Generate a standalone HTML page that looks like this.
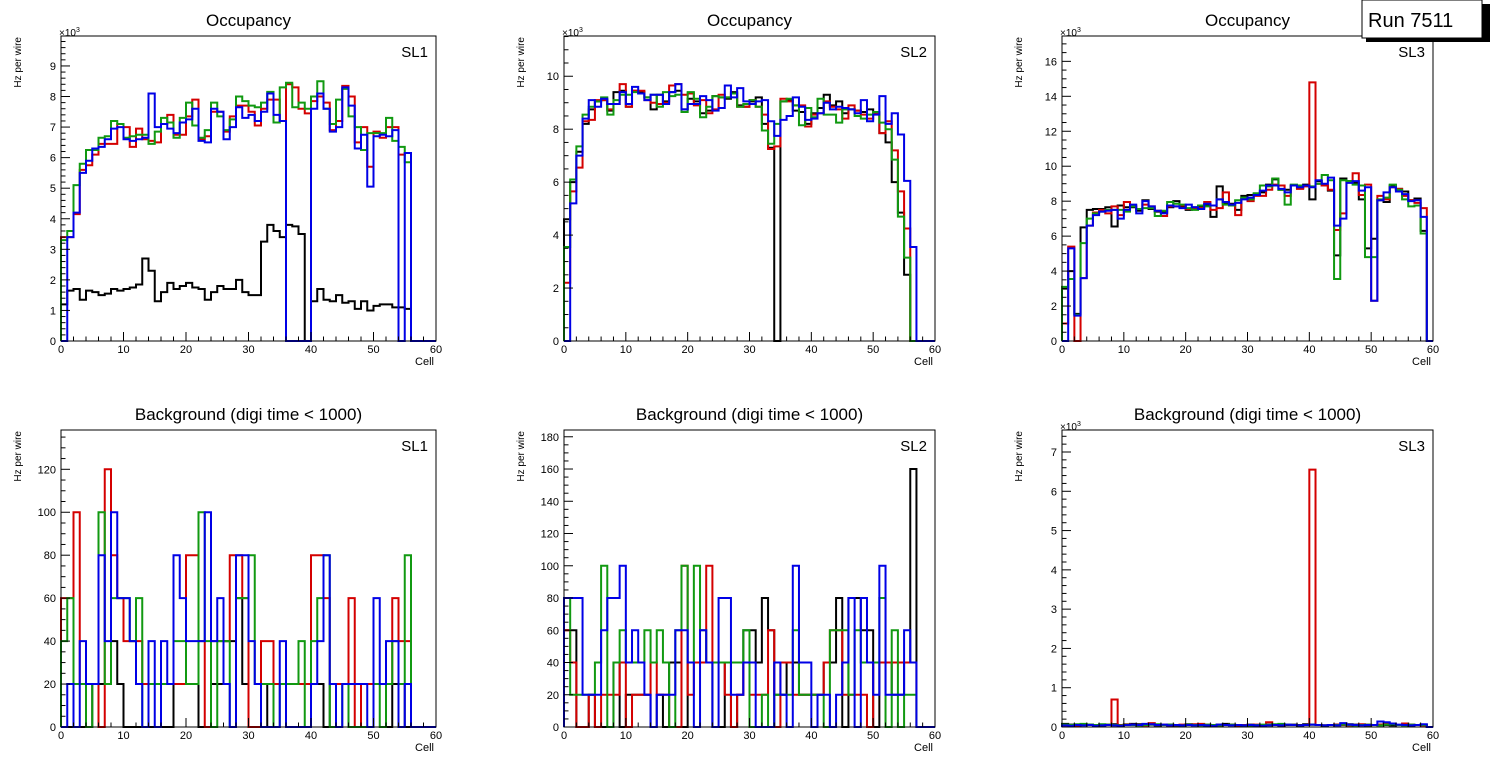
<!DOCTYPE html>
<html><head><meta charset="utf-8"><style>
body{margin:0;background:#fff;}
svg{display:block;font-family:"Liberation Sans",sans-serif;}
</style></head><body>
<svg id="c" width="1496" height="772"></svg>
<script>
// ---------- data ----------
const cellTicks = [0,10,20,30,40,50,60];
const p1Black = [1.2,1.65,1.7,1.35,1.65,1.6,1.5,1.55,1.7,1.65,1.7,1.75,1.85,2.7,2.3,1.3,1.6,1.9,1.7,1.8,1.9,1.75,1.7,1.35,1.6,1.8,1.7,1.7,2.0,1.6,1.5,1.5,3.25,3.8,3.6,3.4,3.8,3.75,3.5,0,1.3,1.7,1.35,1.3,1.5,1.25,1.3,1.05,1.3,1.0,1.15,1.2,1.2,1.1,1.1,1.05];
const p1Red = [3.4,3.4,4.15,5.6,5.75,6.1,6.45,6.45,6.45,7.1,7.0,6.35,6.95,6.6,6.55,6.5,7.1,7.4,6.75,6.75,7.35,7.9,6.6,6.7,7.5,7.5,6.85,7.35,7.7,7.7,7.5,7.05,7.6,7.9,7.9,7.2,8.4,8.3,7.6,7.45,7.85,8.0,7.8,6.9,7.2,8.35,8.0,6.5,7.0,5.7,6.85,6.65,7.0,7.0,6.1,6.15];
const p1Green = [3.3,3.6,5.1,5.8,6.25,6.25,6.65,6.7,7.2,7.1,6.65,6.7,6.75,6.75,6.45,6.85,7.3,7.15,6.65,7.3,7.8,7.05,6.65,6.9,7.8,7.35,6.9,7.25,8.0,7.85,7.7,7.65,7.8,8.15,7.15,8.3,8.45,7.65,7.8,7.6,8.0,8.5,7.6,7.1,7.9,8.25,7.35,7.0,6.25,6.8,6.8,6.8,7.3,6.55,6.35,5.85];
const p1Blue = [0,3.4,4.2,5.5,5.9,6.3,6.35,6.6,6.95,7.0,6.6,6.55,6.6,6.65,8.1,7.0,7.1,6.95,6.8,7.15,7.25,7.6,6.55,6.5,7.6,7.5,6.6,7.0,7.65,7.3,7.4,7.2,7.5,8.1,7.4,7.2,0,0,0,0,7.6,8.1,7.6,6.85,7.0,8.3,7.7,6.3,6.75,5.05,6.7,6.75,6.7,6.9,0,6.15];
const p2Black = [4.6,6.0,7.15,8.2,8.75,9.05,9.1,8.7,9.4,9.45,8.85,9.45,9.4,9.2,8.75,9.3,9.05,9.4,9.45,8.75,9.15,9.05,8.6,8.7,9.25,9.2,9.15,9.4,8.9,8.85,9.05,9.2,8.2,7.3,0,9.05,9.1,8.7,8.65,8.2,8.6,8.8,9.3,8.9,9.05,8.6,8.75,8.7,8.65,8.75,8.6,7.85,7.5,6.0,4.85,2.5];
const p2Red = [2.2,5.65,6.55,8.3,8.35,9.1,9.1,8.75,8.95,9.7,8.85,9.45,9.45,9.1,9.0,8.95,9.0,9.65,9.7,9.3,9.35,8.9,9.1,8.6,8.75,9.3,9.2,9.35,8.85,8.85,9.1,8.85,8.55,7.25,7.35,9.15,9.05,8.9,8.9,8.1,8.55,8.6,9.05,8.85,8.75,8.4,8.9,8.7,8.55,8.4,8.6,7.85,8.3,7.2,5.65,4.25];
const p2Green = [3.55,6.1,7.35,8.55,8.85,9.05,9.2,8.55,9.1,9.3,9.3,9.4,9.35,9.2,9.3,8.85,9.4,9.25,9.3,8.65,9.4,9.15,8.45,8.85,9.25,9.2,9.2,9.35,8.85,8.95,9.1,8.85,7.95,7.45,8.2,9.05,9.15,8.9,8.15,8.8,8.45,9.15,8.55,8.55,8.25,8.75,8.75,8.5,8.4,8.55,8.65,8.25,8.0,6.85,4.7,3.15];
const p2Blue = [0,5.2,7.0,8.4,9.1,8.85,9.15,8.95,8.95,9.4,8.95,9.6,9.35,9.1,9.3,9.3,8.95,9.4,9.7,8.75,8.95,8.95,9.25,9.1,8.7,8.8,9.65,9.2,9.55,9.05,8.95,9.05,9.1,8.3,7.75,8.35,8.5,9.2,8.85,8.35,8.4,8.6,9.0,8.75,8.85,8.8,8.75,8.6,9.1,8.3,8.55,9.25,8.2,8.6,7.8,6.05,3.55];
const p3Black = [3.0,4.0,1.55,6.5,7.5,7.55,7.55,7.65,6.55,7.75,7.65,7.65,7.45,8.05,7.55,7.4,7.35,7.65,8.0,7.7,7.5,7.65,7.7,7.8,7.1,8.85,7.9,7.85,7.5,8.3,8.35,8.4,8.5,8.95,9.25,8.65,8.65,8.9,8.75,8.95,8.1,9.15,8.9,8.6,4.9,9.3,9.15,9.05,8.1,5.3,5.85,8.05,7.95,8.9,8.7,8.55,8.05,8.15,6.3];
const p3Red = [1.0,5.4,0,3.6,6.6,7.35,7.5,7.3,7.7,7.2,7.95,7.75,7.55,7.8,7.7,7.45,7.15,7.7,7.7,7.75,7.55,7.55,7.6,7.95,7.5,7.6,8.5,7.8,7.2,8.15,8.0,8.3,8.3,8.65,8.95,8.9,8.3,8.9,8.7,8.85,14.8,9.0,8.9,8.65,6.35,7.3,9.1,9.6,8.35,8.95,2.3,8.3,8.1,8.8,8.7,8.3,8.05,7.9,7.6];
const p3Green = [3.1,3.55,1.5,5.6,7.0,7.3,7.4,7.5,7.5,7.5,7.4,7.7,7.55,7.6,7.6,7.15,7.45,7.95,7.85,7.8,7.6,7.5,7.75,7.7,7.75,8.1,7.8,7.75,8.05,8.2,8.1,8.45,8.9,8.85,9.3,8.65,7.8,8.95,8.9,8.9,8.85,9.0,9.5,9.2,3.55,9.2,9.15,8.95,8.9,4.8,4.8,8.1,8.2,8.95,8.65,8.1,7.7,7.75,6.15];
const p3Blue = [0,5.3,1.45,3.6,6.6,7.2,7.4,7.45,7.5,7.0,7.5,7.8,7.3,8.0,7.7,7.45,7.3,7.75,7.7,7.6,7.8,7.65,7.55,7.85,7.75,8.1,7.95,7.8,7.9,8.1,8.2,8.35,8.6,8.9,8.9,8.7,8.5,8.9,8.8,8.9,8.8,9.2,9.0,9.35,6.6,7.0,9.05,9.15,8.6,8.8,2.3,8.05,8.5,8.8,8.55,8.4,8.0,8.05,7.1];
const p4Black = [0,0,0,0,0,20,20,20,40,20,0,0,0,0,0,0,0,0,20,20,20,20,0,0,20,20,40,40,60,20,0,0,0,20,20,20,20,20,20,20,20,20,0,20,20,20,20,20,20,20,20,20,0,20,20,0];
const p4Red = [60,60,100,20,20,20,0,120,80,60,40,40,40,20,20,20,20,20,20,20,80,80,40,0,40,40,40,80,80,60,0,0,40,40,20,20,20,20,20,20,80,80,60,20,20,20,60,0,20,20,20,20,20,60,40,40];
const p4Green = [40,60,20,20,0,20,100,20,60,60,60,40,60,0,20,20,20,20,40,40,20,20,100,40,0,40,40,0,60,60,80,20,20,20,0,20,20,20,40,0,40,60,80,0,0,20,0,0,0,0,20,0,20,40,20,80];
const p4Blue = [0,20,0,40,20,20,80,40,100,60,60,40,20,0,40,0,40,20,80,60,40,40,40,100,40,60,20,0,80,80,40,20,0,0,0,40,0,0,0,0,20,40,80,20,0,20,20,20,20,0,60,20,40,40,0,20];
const p5Black = [60,60,0,0,20,0,0,0,40,0,20,20,20,20,0,20,0,40,40,0,40,40,40,40,0,0,40,0,20,60,60,40,80,60,20,20,40,40,20,20,20,20,40,40,80,0,80,80,60,60,0,40,40,20,20,40,160];
const p5Red = [60,40,0,0,20,0,20,20,20,40,0,20,20,20,40,20,20,0,0,100,20,40,40,100,40,40,20,0,20,40,20,20,20,60,0,40,40,20,20,20,20,20,40,60,60,20,20,20,20,0,40,40,40,40,40,40,40];
const p5Green = [80,20,20,20,20,40,100,0,40,60,40,40,40,60,40,60,40,0,60,100,40,100,60,40,40,40,40,40,40,60,0,0,20,0,20,20,20,60,20,20,20,20,0,60,60,60,20,60,40,40,40,80,0,60,0,20,20];
const p5Blue = [80,80,80,20,20,20,60,80,80,100,40,60,40,20,0,20,20,20,60,60,40,0,60,40,0,80,80,20,20,40,40,0,0,0,40,20,0,100,40,40,0,20,20,0,20,40,80,0,80,40,20,100,20,20,20,60,40];
const p6Black = [0.08,0.06,0.04,0.05,0.06,0.05,0.04,0.06,0.07,0.05,0.06,0.08,0.07,0.05,0.06,0.04,0.05,0.06,0.04,0.05,0.07,0.06,0.05,0.04,0.05,0.06,0.08,0.05,0.04,0.05,0.06,0.04,0.05,0.06,0.05,0.04,0.05,0.06,0.05,0.07,0.06,0.05,0.04,0.05,0.06,0.05,0.07,0.06,0.05,0.04,0.05,0.06,0.05,0.04,0.05,0.06,0.04,0.05,0.06];
const p6Red = [0.04,0.05,0.03,0.06,0.05,0.04,0.05,0.06,0.7,0.05,0.07,0.06,0.05,0.04,0.1,0.05,0.06,0.04,0.05,0.06,0.05,0.07,0.08,0.06,0.05,0.04,0.05,0.06,0.04,0.05,0.04,0.06,0.05,0.12,0.05,0.04,0.06,0.05,0.04,0.05,6.55,0.05,0.04,0.05,0.06,0.05,0.04,0.05,0.07,0.06,0.05,0.06,0.1,0.08,0.05,0.09,0.06,0.05,0.04];
const p6Green = [0.06,0.05,0.07,0.08,0.06,0.05,0.07,0.06,0.05,0.04,0.06,0.05,0.04,0.05,0.06,0.07,0.05,0.06,0.05,0.04,0.06,0.05,0.04,0.06,0.05,0.04,0.05,0.06,0.05,0.04,0.03,0.05,0.06,0.05,0.07,0.08,0.06,0.05,0.04,0.05,0.06,0.05,0.04,0.05,0.05,0.06,0.05,0.04,0.05,0.06,0.05,0.04,0.06,0.07,0.05,0.04,0.06,0.05,0.05];
const p6Blue = [0.04,0.03,0.05,0.04,0.05,0.03,0.04,0.05,0.04,0.03,0.05,0.06,0.05,0.08,0.07,0.05,0.06,0.04,0.05,0.04,0.05,0.04,0.05,0.04,0.03,0.06,0.05,0.04,0.05,0.04,0.05,0.04,0.03,0.04,0.05,0.04,0.06,0.05,0.04,0.05,0.06,0.05,0.04,0.05,0.04,0.1,0.06,0.05,0.04,0.05,0.05,0.14,0.12,0.09,0.06,0.05,0.04,0.05,0.07];

const colors = {black:"#000000", red:"#d40000", green:"#119911", blue:"#0000e6"};
const NS = "http://www.w3.org/2000/svg";
const svg = document.getElementById('c');
function mk(tag, attrs, parent){
  const e = document.createElementNS(NS, tag);
  for (const k in attrs) e.setAttribute(k, attrs[k]);
  (parent||svg).appendChild(e);
  return e;
}
const panels = [
  {id:'sl1-occupancy', x0:61,x1:436,y0:36,y1:341,ymax:9.98,major:1,minor:0.2,exp:true,title:'Occupancy',sl:'SL1',series:[p1Black,p1Red,p1Green,p1Blue]},
  {id:'sl2-occupancy', x0:564,x1:935,y0:36,y1:341,ymax:11.52,major:2,minor:0.5,exp:true,title:'Occupancy',sl:'SL2',series:[p2Black,p2Red,p2Green,p2Blue]},
  {id:'sl3-occupancy', x0:1062,x1:1433,y0:36,y1:341,ymax:17.45,major:2,minor:0.5,exp:true,title:'Occupancy',sl:'SL3',series:[p3Black,p3Red,p3Green,p3Blue]},
  {id:'sl1-background', x0:61,x1:436,y0:430,y1:727,ymax:138.3,major:20,minor:5,exp:false,title:'Background (digi time < 1000)',sl:'SL1',series:[p4Black,p4Red,p4Green,p4Blue]},
  {id:'sl2-background', x0:564,x1:935,y0:430,y1:727,ymax:184.2,major:20,minor:5,exp:false,title:'Background (digi time < 1000)',sl:'SL2',series:[p5Black,p5Red,p5Green,p5Blue]},
  {id:'sl3-background', x0:1062,x1:1433,y0:430,y1:727,ymax:7.56,major:1,minor:0.2,exp:true,title:'Background (digi time < 1000)',sl:'SL3',series:[p6Black,p6Red,p6Green,p6Blue]},
];
const names = ['black','red','green','blue'];
panels.forEach(p=>{
  const g = mk('g',{});
  
  
  const X = c => p.x0 + (p.x1-p.x0)*c/60;
  const Y = v => p.y1 - (p.y1-p.y0)*Math.min(v,p.ymax)/p.ymax;
  const t = mk('text',{x:(p.x0+p.x1)/2, y:p.y0-10, 'text-anchor':'middle','font-size':17},g);
  t.textContent = p.title;
  
  
  p.series.forEach((arr,si)=>{
    let d = 'M'+X(0)+','+Y(0);
    for (let i=0;i<arr.length;i++){
      d += ' L'+X(i)+','+Y(arr[i])+' L'+X(i+1)+','+Y(arr[i]);
    }
    d += ' L'+X(arr.length)+','+Y(0)+' L'+X(60)+','+Y(0);
    const path = mk('path',{d:d,fill:'none',stroke:colors[names[si]],'stroke-width':2},g);
    
    
  });
  const fr = mk('rect',{x:p.x0,y:p.y0,width:p.x1-p.x0,height:p.y1-p.y0,fill:'none',stroke:'#000','stroke-width':1},g);
  
  
  for (let c=0;c<=60;c+=2){
    const len = c%10===0 ? 9 : 4.5;
    mk('line',{x1:X(c),x2:X(c),y1:p.y1,y2:p.y1-len,stroke:'#000','stroke-width':1},g);
  }
  cellTicks.forEach(c=>{
    const tl = mk('text',{x:X(c),y:p.y1+12,'text-anchor':'middle','font-size':11},g);
    tl.textContent = c;
    
    
  });
  const xl = mk('text',{x:p.x1-2,y:p.y1+24,'text-anchor':'end','font-size':11},g);
  xl.textContent = 'Cell';
  
  
  const nMin = Math.floor(p.ymax/p.minor+1e-6);
  for (let k=0;k<=nMin;k++){
    const v = k*p.minor;
    const isMaj = Math.abs(v/p.major - Math.round(v/p.major))<1e-6;
    mk('line',{x1:p.x0,x2:p.x0+(isMaj?9:4.5),y1:Y(v),y2:Y(v),stroke:'#000','stroke-width':1},g);
    if (isMaj){
      const yl = mk('text',{x:p.x0-5,y:Y(v)+4,'text-anchor':'end','font-size':11},g);
      yl.textContent = Math.round(v);
      
      
    }
  }
  if (p.exp){
    const ex = mk('text',{x:p.x0-2,y:p.y0,'font-size':10},g);
    ex.textContent = '×10';
    const sp = mk('tspan',{'font-size':7,dy:-4},ex);
    sp.textContent = '3';
    
    
  }
  const yt = mk('text',{x:0,y:0,'text-anchor':'end','font-size':10,transform:'translate('+(p.x0-40)+','+(p.y0+1)+') rotate(-90)'},g);
  yt.textContent = 'Hz per wire';
  
  
  const sl = mk('text',{x:p.x1-8,y:p.y0+21,'text-anchor':'end','font-size':15},g);
  sl.textContent = p.sl;
  
  
});
const rb = mk('g',{});


mk('rect',{x:1366,y:4,width:124,height:38,fill:'#000'},rb);
mk('rect',{x:1362,y:0,width:120,height:38,fill:'#fff',stroke:'#000','stroke-width':1},rb);
const rt = mk('text',{x:1368,y:27,'font-size':20},rb);
rt.textContent = 'Run 7511';


</script>
</body></html>
